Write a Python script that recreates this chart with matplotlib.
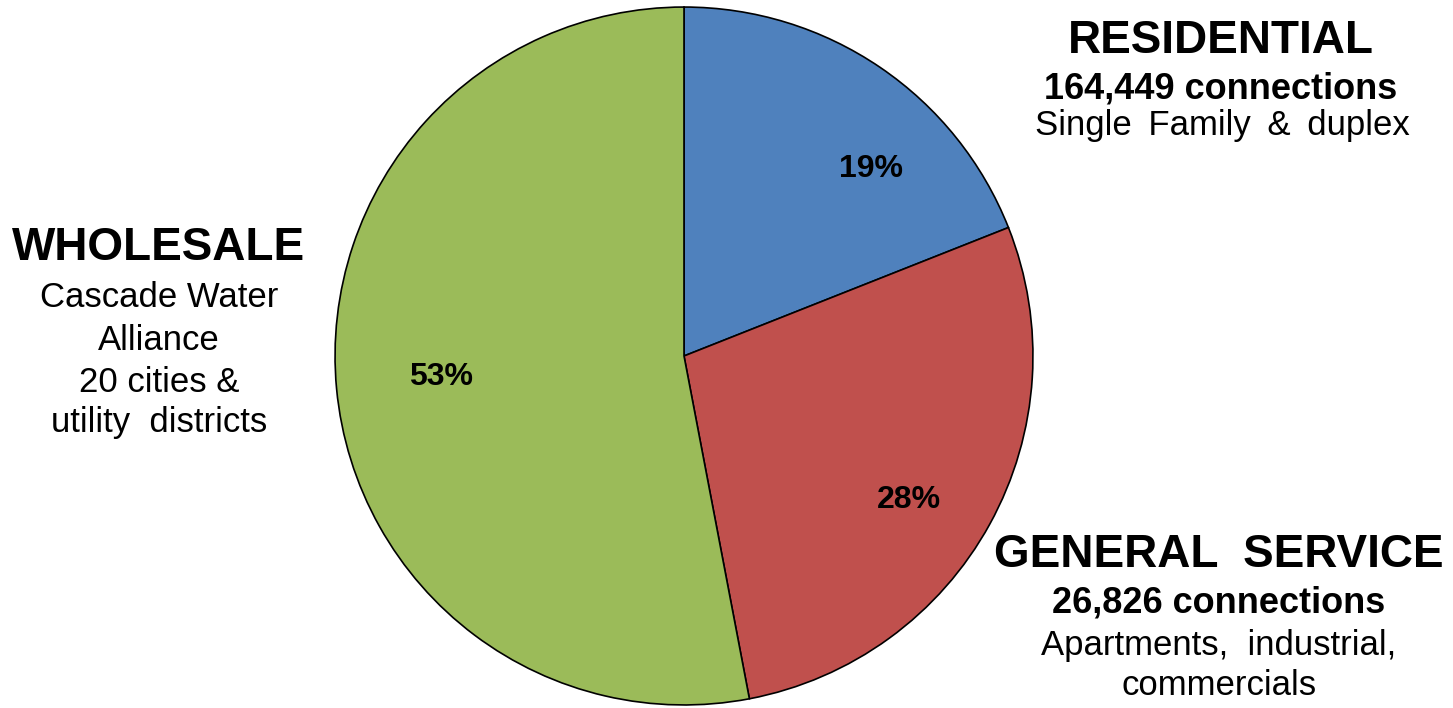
import matplotlib
matplotlib.use("Agg")
import matplotlib.pyplot as plt

plt.rcParams['font.family'] = ['Liberation Sans', 'DejaVu Sans']

categories = ["RESIDENTIAL", "GENERAL SERVICE", "WHOLESALE"]
shares = [19, 28, 53]
colors = ["#4F81BD", "#C0504D", "#9BBB59"]
# percentage label anchor points (pie radius units, baseline)
pct_label_xy = [(0.536, 0.513), (0.646, -0.436), (-0.695, -0.083)]

W, H = 1453, 708
fig = plt.figure(figsize=(W / 100, H / 100), dpi=100)
fig.patch.set_facecolor("white")

cx, cy, r = 684, 356, 350
ax = fig.add_axes([(cx - r) / W, (H - cy - r) / H, 2 * r / W, 2 * r / H])
wedges, texts, autotexts = ax.pie(
    shares, colors=colors, startangle=90, counterclock=False,
    autopct=lambda p: f"{p:.0f}%", pctdistance=0.75,
    wedgeprops=dict(edgecolor="black", linewidth=1.2),
    textprops=dict(fontsize=23, fontweight="bold", color="black"),
)
for t, (px, py) in zip(autotexts, pct_label_xy):
    t.set_position((px, py))
    t.set_va("baseline")
    t.set_ha("center")
ax.set_xlim(-1.003, 1.003)
ax.set_ylim(-1.003, 1.003)
ax.set_aspect("equal")
ax.axis("off")


def label(x, y, s, size, bold=False):
    fig.text(x / W, 1 - y / H, s, ha="center", va="baseline",
             fontsize=size, fontweight="bold" if bold else "normal", color="black")


# Residential
label(1221, 53, "RESIDENTIAL", 33, True)
label(1221, 98, "164,449 connections", 26, True)
label(1222, 135, "Single \u2009Family \u2009& \u2009duplex", 25)

# Wholesale
label(159, 260, "WHOLESALE", 33, True)
label(159, 307, "Cascade Water", 25)
label(159, 350, "Alliance", 25)
label(159, 392, "20 cities &", 25)
label(159, 432, "utility  districts", 25)

# General service
label(1219, 567, "GENERAL  SERVICE", 33, True)
label(1219, 612, "26,826 connections", 26, True)
label(1219, 655, "Apartments,  industrial,", 25)
label(1219, 695, "commercials", 25)

fig.savefig("out.png", dpi=100, facecolor="white")
